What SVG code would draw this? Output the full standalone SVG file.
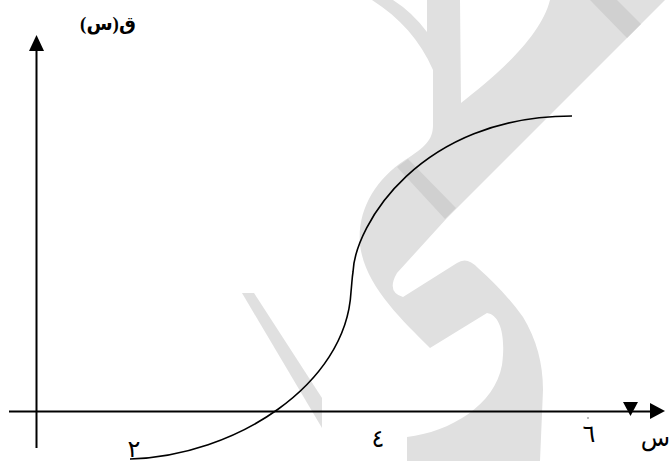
<svg xmlns="http://www.w3.org/2000/svg" width="671" height="461" viewBox="0 0 671 461">
<style>
.wm{fill:#e0e0e0;stroke:none}
.wm2{fill:#d0d0d0;stroke:none}
.ax{stroke:#000;stroke-width:2;fill:none}
.crv{stroke:#000;stroke-width:1.6;fill:none}
.ah{fill:#000}
.lbl{font-family:"Liberation Serif","DejaVu Sans",serif;font-size:19px;font-weight:bold;fill:#000}
.num{font-family:"Liberation Serif","DejaVu Sans",serif;font-size:24px;fill:#000}
</style>
<g id="watermark">
<polygon class="wm" points="242,293 254,293 322,398 322,428"/>
<path class="wm" d="M372,0 L393,0 Q412,12 427,32 L427,0 L460,0 L461,103 C490,80 540,40 550,0 L665,0 L447,218 L397,273 Q386,292 403,297 L457,263 Q467,256 478,268 Q505,292 523,317 Q543,350 543,390 L540,461 L407,461 L407,437 C450,432 495,405 502,365 C506,335 500,315 487,313 L430,348 C400,318 365,285 360,245 C357,210 375,180 405,160 C425,147 433,140 433,125 L433,70 C420,40 400,18 372,0 Z"/>
<polygon class="wm2" points="590,0 617,0 641,24 627,38"/>
<polygon class="wm2" points="397,167 408,159 456,208 445,219"/>
</g>
<g id="connectors">
<line class="ax" x1="36.5" y1="50" x2="36.5" y2="448"/>
<polygon class="ah" points="36.5,35 29,51 44,51"/>
<line class="ax" x1="9" y1="411.5" x2="651" y2="411.5"/>
<polygon class="ah" points="665,411 650,403 650,419"/>
<polygon class="ah" points="623,402 638,402 630.5,416"/>
</g>
<g id="curve">
<path class="crv" d="M130,459 C235,456 346,385 351,292 C352,282 352,278 353,272 C355,225 420,116 572,116"/>
</g>
<g id="labels">
<text class="lbl" x="108" y="30" text-anchor="middle" direction="rtl" unicode-bidi="embed">ق(س)</text>
<text class="num" x="134" y="457" text-anchor="middle">٢</text>
<text class="num" x="378" y="447" text-anchor="middle">٤</text>
<text class="num" x="589" y="442" text-anchor="middle">٦</text>
<circle cx="588" cy="418" r="0.8" fill="#666"/>
<text class="num" x="670" y="446" text-anchor="end">س</text>
</g>
</svg>
